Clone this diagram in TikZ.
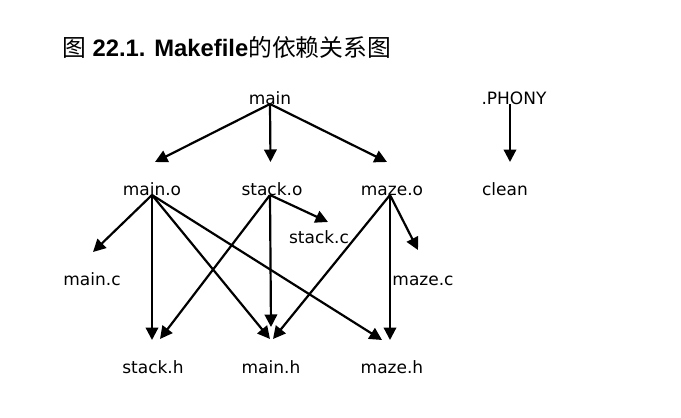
\documentclass[tikz,border=0pt]{standalone}
\usepackage{fontspec}
\newfontfamily\dvfont{DejaVu Sans}
\newfontfamily\libfont{Liberation Sans}
\newfontfamily\cjkfont{Noto Sans CJK SC}
\usetikzlibrary{arrows.meta,calc}
\tikzset{
  lbl/.style={anchor=base,inner sep=0pt,font=\dvfont\fontsize{17}{19}\selectfont},
  arr/.style={line width=2.2pt,-{Triangle[length=12.5pt,width=12.5pt]}}
}
\begin{document}
\begin{tikzpicture}[x=1pt,y=-1pt]
\useasboundingbox[fill=white] (0,0) rectangle (681,418);
\node[anchor=base west,inner sep=0pt,font=\fontsize{23.8}{26}\selectfont] (title) at (62,56)
  {{\cjkfont 图}\libfont\bfseries\ 22.1. Makefile{\cjkfont\mdseries 的依赖关系图}};
\node[lbl] (main) at (270,104) {main};
\node[lbl] (phony) at (514,104) {.PHONY};
\node[lbl] (mainO) at (152,195) {main.o};
\node[lbl] (stackO) at (272,195) {stack.o};
\node[lbl] (mazeO) at (392,195) {maze.o};
\node[lbl] (clean) at (505,195) {clean};
\node[lbl] (stackC) at (319,243) {stack.c};
\node[lbl] (mainC) at (92,285) {main.c};
\node[lbl] (mazeC) at (423,285) {maze.c};
\node[lbl] (stackH) at (153,373) {stack.h};
\node[lbl] (mainH) at (271,373) {main.h};
\node[lbl] (mazeH) at (392,373) {maze.h};
% main
\draw[arr] (main.base) -- ($(mainO.base)+(3,-33)$);
\draw[arr] (main.base) -- ($(stackO.base)+(-1.5,-33)$);
\draw[arr] (main.base) -- ($(mazeO.base)+(-5,-33)$);
% phony
\draw[arr] ($(phony.base)+(-4,0)$) -- ($(clean.base)+(5,-33)$);
% main.o
\draw[arr] (mainO.base) -- ($(mainC.base)+(1,-33)$);
\draw[arr] (mainO.base) -- ($(stackH.base)+(-1,-33)$);
\draw[arr] (mainO.base) -- ($(mainH.base)+(-1,-34)$);
\draw[arr] (mainO.base) -- ($(mazeH.base)+(-10,-33)$);
% stack.o
\draw[arr] ($(stackO.base)+(-2,0)$) -- ($(stackC.base)+(9,-21)$);
\draw[arr] ($(stackO.base)+(-2,0)$) -- ($(stackH.base)+(7,-34)$);
\draw[arr] ($(stackO.base)+(-2,0)$) -- ($(mainH.base)+(0,-46)$);
% maze.o
\draw[arr] ($(mazeO.base)+(-2,0)$) -- ($(mazeC.base)+(-5,-35)$);
\draw[arr] ($(mazeO.base)+(-2,0)$) -- ($(mazeH.base)+(-2,-33)$);
\draw[arr] ($(mazeO.base)+(-2,0)$) -- ($(mainH.base)+(2,-34)$);
\end{tikzpicture}
\end{document}
